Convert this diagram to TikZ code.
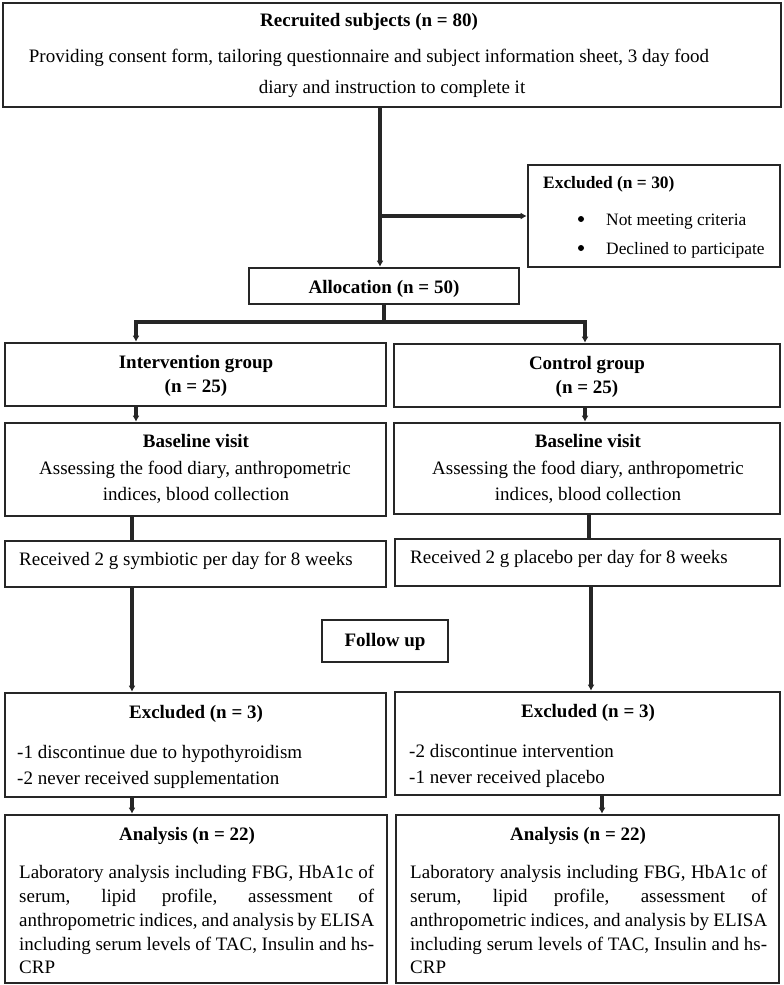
\documentclass[tikz,border=0pt]{standalone}
\usepackage{fontspec}
\setmainfont{Liberation Serif}
\usetikzlibrary{arrows.meta}
\tikzset{
  box/.style={draw=black!85, line width=2.6pt, inner sep=0, fill=none},
  thinbox/.style={draw=black!85, line width=1.4pt, inner sep=0},
  conn/.style={draw=black!85, line width=3.4pt},
  arr/.style={conn, -{Latex[length=6pt,width=7pt]}},
  txt/.style={inner sep=0, anchor=base, font=\fontsize{19}{24}\selectfont},
  txtl/.style={txt, anchor=base west},
  btxt/.style={txt, font=\fontsize{19}{24}\selectfont\bfseries},
  stxt/.style={inner sep=0, anchor=base west, font=\fontsize{17.4}{22}\selectfont},
  dot/.style={circle, fill=black, inner sep=0, minimum size=6pt}
}
\begin{document}
\begin{tikzpicture}[x=1pt,y=-1pt]
\useasboundingbox (0,0) rectangle (784,985);
% boxes
\node[box, minimum width=778pt, minimum height=104pt] (top) at (392,55) {};
\node[box, minimum width=252pt, minimum height=102pt] (ex) at (654,216) {};
\node[box, minimum width=270pt, minimum height=36pt] (alloc) at (384,286) {};
\node[box, minimum width=381pt, minimum height=63pt] (int) at (195.5,374.5) {};
\node[box, minimum width=386pt, minimum height=63pt] (ctl) at (587,375.5) {};
\node[box, minimum width=381pt, minimum height=93pt] (bl) at (195.5,469.5) {};
\node[box, minimum width=386pt, minimum height=91pt] (br) at (587,468.5) {};
\node[box, minimum width=381pt, minimum height=46pt] (rl) at (195.5,564) {};
\node[box, minimum width=385pt, minimum height=47pt] (rr) at (587.5,562.5) {};
\node[thinbox, minimum width=126pt, minimum height=42pt] (fu) at (385,641) {};
\node[box, minimum width=381pt, minimum height=104pt] (el) at (195.5,745) {};
\node[box, minimum width=385pt, minimum height=103pt] (er) at (587.5,743.5) {};
\node[box, minimum width=382pt, minimum height=168pt] (al) at (196,899) {};
\node[box, minimum width=383pt, minimum height=168pt] (ar) at (587.5,899) {};

% helper x coordinates
\coordinate (tx) at (380,0);
\coordinate (split) at (384,322);
\coordinate (lxa) at (136,0);
\coordinate (lxb) at (132,0);
\coordinate (rxa) at (585,0);
\coordinate (rxb) at (589,0);
\coordinate (rxc) at (591,0);
\coordinate (rxd) at (602,0);

% connectors
\draw[arr] (top.south -| tx) -- (alloc.north -| tx);
\draw[arr] (ex.west -| tx) -- (ex.west);
\draw[conn] (alloc.south) -- (split);
\draw[arr] (split) -| (int.north -| lxa);
\draw[arr] (split) -| (ctl.north -| rxa);
\draw[arr] (int.south -| lxa) -- (bl.north -| lxa);
\draw[arr] (ctl.south -| rxa) -- (br.north -| rxa);
\draw[conn] (bl.south -| lxb) -- (rl.north -| lxb);
\draw[conn] (br.south -| rxb) -- (rr.north -| rxb);
\draw[arr] (rl.south -| lxb) -- (el.north -| lxb);
\draw[arr] (rr.south -| rxc) -- (er.north -| rxc);
\draw[arr] (el.south -| lxb) -- (al.north -| lxb);
\draw[arr] (er.south -| rxd) -- (ar.north -| rxd);

% texts
\node[btxt] (t1) at (369,27) {Recruited subjects (n = 80)};
\node[txt] (t2) at (369,62) {Providing consent form, tailoring questionnaire and subject information sheet, 3 day food};
\node[txt] (t3) at (392,93) {diary and instruction to complete it};

\node[stxt, font=\fontsize{17.4}{22}\selectfont\bfseries] (e1) at (543,188) {Excluded (n = 30)};
\node[dot] (d1) at (581,219) {};
\node[dot] (d2) at (581,248) {};
\node[stxt] (e2) at (606,225) {Not meeting criteria};
\node[stxt] (e3) at (606,254) {Declined to participate};

\node[btxt] (a1) at (384,293) {Allocation (n = 50)};

\node[btxt] (i1) at (196,368) {Intervention group};
\node[btxt] (i2) at (196,392) {(n = 25)};
\node[btxt] (c1) at (587,369) {Control group};
\node[btxt] (c2) at (587,393) {(n = 25)};

\node[btxt] (b1) at (196,447) {Baseline visit};
\node[txt] (b2) at (195,474) {Assessing the food diary, anthropometric};
\node[txt] (b3) at (196,500) {indices, blood collection};
\node[btxt] (b4) at (588,447) {Baseline visit};
\node[txt] (b5) at (588,474) {Assessing the food diary, anthropometric};
\node[txt] (b6) at (588,500) {indices, blood collection};

\node[txtl] (r1) at (19,565) {Received 2 g symbiotic per day for 8 weeks};
\node[txtl] (r2) at (410,563) {Received 2 g placebo per day for 8 weeks};

\node[btxt] (f1) at (385,646) {Follow up};

\node[btxt] (x1) at (196,718) {Excluded (n = 3)};
\node[txtl] (x2) at (17,758) {-1 discontinue due to hypothyroidism};
\node[txtl] (x3) at (17,784) {-2 never received supplementation};
\node[btxt] (x4) at (588,717) {Excluded (n = 3)};
\node[txtl] (x5) at (409,757) {-2 discontinue intervention};
\node[txtl] (x6) at (409,783) {-1 never received placebo};

\node[btxt] (n1) at (187,840) {Analysis (n = 22)};
\node[txtl] (n2) at (19,878) {\makebox[355pt][s]{Laboratory analysis including FBG, HbA1c of}};
\node[txtl] (n3) at (19,902) {\makebox[355pt][s]{serum, lipid profile, assessment of}};
\node[txtl] (n4) at (19,926) {\makebox[355pt][s]{anthropometric indices, and analysis by ELISA}};
\node[txtl] (n5) at (19,950) {\makebox[355pt][s]{including serum levels of TAC, Insulin and hs-}};
\node[txtl] (n6) at (19,973) {CRP};

\node[btxt] (m1) at (578,840) {Analysis (n = 22)};
\node[txtl] (m2) at (410,878) {\makebox[357pt][s]{Laboratory analysis including FBG, HbA1c of}};
\node[txtl] (m3) at (410,902) {\makebox[357pt][s]{serum, lipid profile, assessment of}};
\node[txtl] (m4) at (410,926) {\makebox[357pt][s]{anthropometric indices, and analysis by ELISA}};
\node[txtl] (m5) at (410,950) {\makebox[357pt][s]{including serum levels of TAC, Insulin and hs-}};
\node[txtl] (m6) at (410,973) {CRP};
\end{tikzpicture}
\end{document}
